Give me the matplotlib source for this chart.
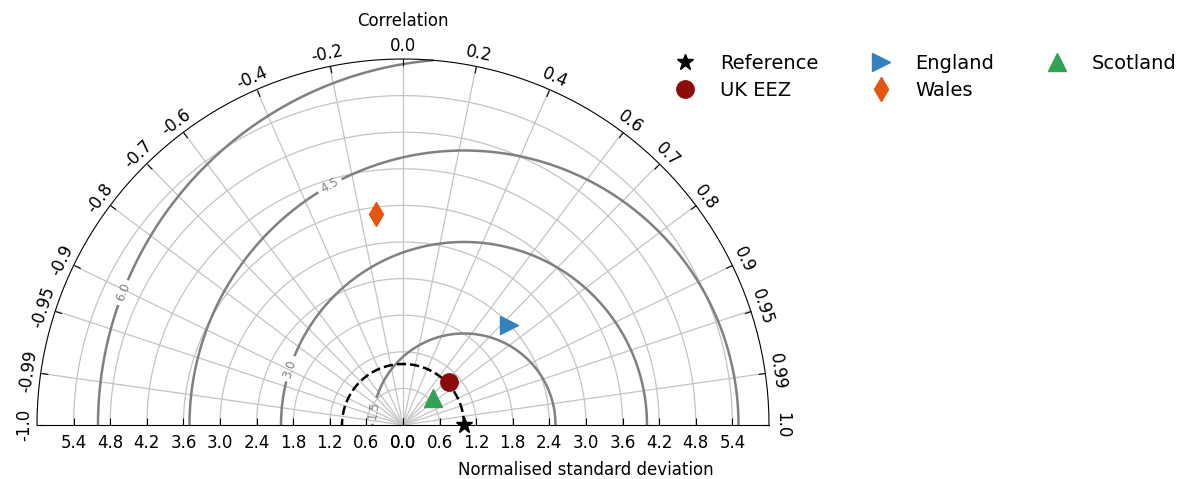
import numpy as np
import matplotlib
matplotlib.use("Agg")
import matplotlib.pyplot as plt
from matplotlib.projections import PolarAxes
from matplotlib.lines import Line2D
import mpl_toolkits.axisartist.floating_axes as FA
import mpl_toolkits.axisartist.grid_finder as GF

# Correlation ticks (mirrored for negative correlations)
corr_ticks = [0.0, 0.2, 0.4, 0.6, 0.7, 0.8, 0.9, 0.95, 0.99, 1.0]
# Normalised standard deviation ticks
std_ticks = [0.0, 0.6, 1.2, 1.8, 2.4, 3.0, 3.6, 4.2, 4.8, 5.4]
std_max = 6.0
ref_std = 1.0
rms_levels = [1.5, 3.0, 4.5, 6.0]

# Sample statistics
names = ["UK EEZ", "England", "Wales", "Scotland"]
stds = [1.03, 2.38, 3.49, 0.66]
corrs = [0.728, 0.727, -0.125, 0.75]
markers = ["o", ">", "d", "^"]
colors = ["#8b0a0a", "#3182bd", "#e6550d", "#31a354"]

# Where the RMS contour labels sit: (correlation, std)
label_spots = [(-0.899, 0.54), (-0.895, 2.07), (-0.292, 4.10), (-0.904, 5.08)]

plt.rcParams["font.size"] = 12

fig = plt.figure(figsize=(11.89, 4.79), dpi=100)

rlocs = np.array(corr_ticks)
rlocs = np.concatenate((-rlocs[:0:-1], rlocs))
tlocs = np.arccos(rlocs)
gl1 = GF.FixedLocator(tlocs)
tf1 = GF.DictFormatter(dict(zip(tlocs, map(str, rlocs))))
gl2 = GF.FixedLocator(std_ticks)
tf2 = GF.DictFormatter({s: f"{s:.1f}" for s in std_ticks})

tr = PolarAxes.PolarTransform(apply_theta_transforms=False)
ghelper = FA.GridHelperCurveLinear(
    tr, extremes=(0, np.pi, 0, std_max),
    grid_locator1=gl1, tick_formatter1=tf1,
    grid_locator2=gl2, tick_formatter2=tf2)

# Floating axes pad their limits by 2%, so the box is enlarged to match
W, H = 1189.0, 479.0
half_w = 366 * 1.02
half_h = 183 * 1.02
cx, cy = 403.0, H - 242.0
rect = [(cx - half_w) / W, (cy - half_h) / H, 2 * half_w / W, 2 * half_h / H]
ax = FA.FloatingAxes(fig, rect, grid_helper=ghelper)
fig.add_axes(ax)

ax.axis["top"].set_axis_direction("bottom")
ax.axis["top"].toggle(ticklabels=True, label=True)
ax.axis["top"].major_ticklabels.set_axis_direction("top")
ax.axis["top"].label.set_axis_direction("top")
ax.axis["top"].label.set_text("Correlation")

ax.axis["left"].set_axis_direction("bottom")
ax.axis["left"].label.set_text("Normalised standard deviation")

ax.axis["right"].set_axis_direction("top")
ax.axis["right"].toggle(ticklabels=True)
ax.axis["right"].major_ticklabels.set_axis_direction("bottom")

ax.axis["bottom"].set_visible(False)

for side in ("top", "left", "right"):
    ax.axis[side].major_ticks.set_ticksize(5)
ax.axis["top"].major_ticklabels.set_pad(5.5)
ax.axis["top"].label.set_pad(6)
for side in ("left", "right"):
    ax.axis[side].major_ticklabels.set_pad(7.5)
    ax.axis[side].label.set_pad(9)

ax.grid(True, color="#c4c4c4", linewidth=0.9)

aux = ax.get_aux_axes(tr)

# RMS difference contours around the reference point
rs, ts = np.meshgrid(np.linspace(0, std_max, 400), np.linspace(0, np.pi, 400))
rms = np.sqrt(ref_std ** 2 + rs ** 2 - 2 * ref_std * rs * np.cos(ts))
cs = aux.contour(ts, rs, rms, levels=rms_levels, colors="0.5", linewidths=1.8)
manual = [(np.arccos(c), s) for c, s in label_spots]
aux.clabel(cs, inline=True, fontsize=8.5, fmt="%.1f", manual=manual,
           inline_spacing=4)

# Reference standard deviation arc
t = np.linspace(0, np.pi, 200)
aux.plot(t, np.full_like(t, ref_std), "k--", lw=1.8, zorder=4)

handles = []
aux.plot([0], [ref_std], "k*", ls="", ms=12, zorder=6, clip_on=False)
handles.append(Line2D([], [], color="k", marker="*", ls="", ms=12))
for name, s, c, m, col in zip(names, stds, corrs, markers, colors):
    aux.plot([np.arccos(c)], [s], marker=m, color=col, ls="", ms=12.5, zorder=6)
    handles.append(Line2D([], [], color=col, marker=m, ls="", ms=12.5))

labels = ["Reference"] + names
fig.legend(handles, labels, loc="upper left",
           bbox_to_anchor=(648 / W, 1 - 36.6 / H), ncol=3,
           frameon=False, fontsize=14, labelspacing=0.4, columnspacing=2.2)

fig.savefig("out.png", dpi=100)
